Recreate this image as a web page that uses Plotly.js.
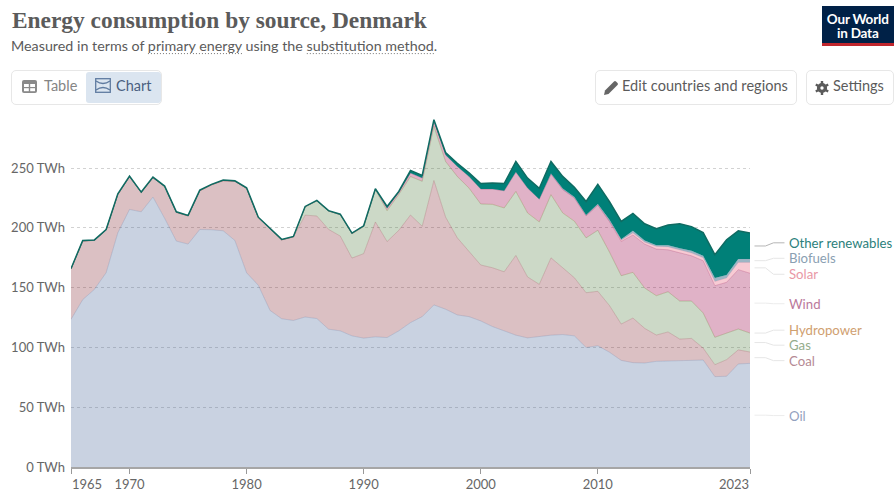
<!DOCTYPE html>
<html>
<head>
<meta charset="utf-8">
<script src="https://cdn.plot.ly/plotly-3.0.1.min.js"></script>
<style>
html,body{margin:0;padding:0;background:#fff;overflow:hidden}
#wrap{position:relative;width:896px;height:495px;font-family:Lato,sans-serif}
#chart{position:absolute;left:0;top:0;width:896px;height:495px}
.box{position:absolute;box-sizing:border-box;border:1px solid #e7e7e7;border-radius:5px;background:#fff}
.t{position:absolute;font-size:14.5px;line-height:18px;color:#5b5b5b;white-space:nowrap}
svg.i{position:absolute}
</style>
</head>
<body>
<div id="wrap">
<div id="chart"></div>
<div class="box" style="left:11px;top:70px;width:151px;height:35px"></div>
<div style="position:absolute;left:86px;top:72px;width:75px;height:31px;background:#dbe5f0;border-radius:3px"></div>
<svg class="i" style="left:22px;top:80px" width="15" height="13" viewBox="0 0 15 13"><rect width="15" height="13" rx="2" fill="#8a8a8a"/><rect x="2" y="4" width="4.8" height="3" fill="#fff"/><rect x="8.2" y="4" width="4.8" height="3" fill="#fff"/><rect x="2" y="8.2" width="4.8" height="3" fill="#fff"/><rect x="8.2" y="8.2" width="4.8" height="3" fill="#fff"/></svg>
<div class="t" style="left:44px;top:77px;color:#858585">Table</div>
<svg class="i" style="left:95px;top:78px" width="16" height="15" viewBox="0 0 16 15"><rect x=".7" y=".7" width="14.6" height="13.6" fill="none" stroke="#5f7ba0" stroke-width="1.3"/><path d="M1 3 Q8 8 15 3 M1 12 Q8 7 15 12" fill="none" stroke="#5f7ba0" stroke-width="1.3"/></svg>
<div class="t" style="left:116px;top:77px;color:#4a5f80">Chart</div>
<div class="box" style="left:595px;top:70px;width:202px;height:35px"></div>
<svg class="i" style="left:604px;top:80px" width="15" height="15" viewBox="0 0 15 15"><path d="M0 15 L1 10.5 L10 1.5 Q11 .5 12 1.5 L13.5 3 Q14.5 4 13.5 5 L4.5 14 Z" fill="#666"/></svg>
<div class="t" style="left:622px;top:77px;letter-spacing:.05px">Edit countries and regions</div>
<div class="box" style="left:806px;top:70px;width:88px;height:35px"></div>
<svg class="i" style="left:815px;top:81px" width="14" height="14" viewBox="0 0 14 14"><circle cx="7" cy="7" r="3.4" fill="none" stroke="#5b5b5b" stroke-width="3.4"/><path d="M7 0V3M7 11V14M0.8 3.5L3.4 5M10.6 9L13.2 10.5M0.8 10.5L3.4 9M10.6 5L13.2 3.5" stroke="#5b5b5b" stroke-width="2.4"/></svg>
<div class="t" style="left:833px;top:77px">Settings</div>
<div style="position:absolute;left:822px;top:6px;width:71.5px;height:40px;background:#002147;border-bottom:3.5px solid #c0262d;box-sizing:border-box;color:#fff;font-weight:700;font-size:13.5px;line-height:14.5px;text-align:center;padding-top:5.5px;letter-spacing:-.2px">Our World<br>in Data</div>
</div>
<script>
var years = [];
for (var yr = 1965; yr <= 2023; yr++) years.push(yr);

var oil = [123.5,140,148.6,162.5,196,215.5,213.5,225.8,208,189,
  186.5,198.7,198.5,197.6,189.5,162.5,152,131,124,122.6,
  125.5,124.2,115.3,113.9,109.7,107.8,108.9,108.3,113.9,120.8,
  125.8,135.6,132,127.2,125.8,122.2,117.5,113.9,110.3,108,
  109.2,110.3,110.8,109.7,100,101.4,96,89.2,87.3,87,
  88.4,88.7,88.4,89.2,89.5,75.6,75.9,86.2,86.7];
var coal = [42.1,49,41,35.8,32,27.3,16.1,16.2,26.6,24,
  23.5,32.3,37.5,41.9,49.5,70.5,56.6,68.4,66,69.8,
  85.2,85.8,83.5,79.3,65.1,70.7,96.1,80.3,84.1,90,
  75.6,104.1,77,64.5,54.8,46.8,49.2,49.4,66.7,51,
  43.6,64.7,55.9,48.6,45.8,45.6,39,30.4,37.3,29,
  22,24.3,18.6,18.4,10,10,13.9,11.8,9.5];
var gas = [0,0,0,0,0,0,0,0,0,0,
  0,0,0,0,0,0,0,0,0,0.1,
  6.8,12.5,15.2,17.8,20.2,22.5,27,25.8,30,32.2,
  37.6,45.3,46.5,51.3,52.7,51,53,53.4,53.5,53.5,
  52.2,52.8,45.8,47.3,45.9,51,44.7,40.4,38.2,33.7,
  32.9,33.6,31.8,31.2,29.3,22.9,22.2,17.4,15.8];
var hydropower = [0.1,0.1,0.1,0.1,0.1,0.1,0.1,0.1,0.1,0.1,
  0.1,0.1,0.1,0.1,0.1,0.1,0.1,0.1,0.1,0.1,
  0.1,0.1,0.1,0.1,0.1,0.1,0.1,0.1,0.1,0.1,
  0.1,0.1,0.1,0.1,0.1,0.1,0.1,0.1,0.1,0.1,
  0.1,0.1,0.1,0.1,0.1,0.1,0.1,0.1,0.1,0.1,
  0.1,0.1,0.1,0.1,0.1,0.1,0.1,0.1,0.1];
var wind = [0,0,0,0,0,0,0,0,0,0,
  0,0,0,0,0,0,0,0,0,0,
  0.1,0.1,0.1,0.1,0.2,0.3,0.5,2,1.7,2.8,
  2.7,4,5.5,8.4,9.7,12.5,12.8,14.3,16.2,20.8,
  19,17.2,19.5,19.4,18.3,21,25.5,28.6,31.2,36.7,
  38.9,35,40.1,37.8,43.7,43.1,42.4,49.6,50];
var solar = [0,0,0,0,0,0,0,0,0,0,
  0,0,0,0,0,0,0,0,0,0,
  0,0,0,0,0,0,0,0,0,0,
  0,0,0,0,0,0,0,0,0,0,
  0,0,0,0,0,0,0.1,0.9,1.6,1.6,
  2.2,2.4,2.5,2.3,2.5,3.4,3.6,6,9];
var biofuels = [0,0,0,0,0,0,0,0,0,0,
  0,0,0,0,0,0,0,0,0,0,
  0,0,0,0,0,0,0,0,0,0,
  0,0,0,0,0,0,0,0,0,0,
  0,0.5,0.8,0.8,0.8,0.9,1.5,0.9,1.9,1.4,
  1.1,1.5,1.4,1.9,1.6,3,2.5,3,3];
var otherRenewables = [0.3,0.4,0.3,0.3,0.4,0.4,0.3,0.4,0.3,0.4,
  0.4,0.5,0.3,0.4,0.3,0.5,0.3,0.5,0.3,0.3,
  0.3,0.3,0.3,0.3,0.4,0.4,0.2,1.5,0.7,2.1,
  2.2,1.5,2,2.6,3,4.5,5,6,8.8,8.3,
  9,10,10.2,8.2,11.2,16.5,15,15,14.5,14,
  13.7,16.8,20.6,20.2,19.4,19.5,29.5,23.5,21.6];

var seriesNames = ['Oil','Coal','Gas','Hydropower','Wind','Solar','Biofuels','Other renewables'];
var seriesValues = [oil,coal,gas,hydropower,wind,solar,biofuels,otherRenewables];
var fillColors = ['rgba(76,106,156,0.3)','rgba(136,48,57,0.3)','rgba(87,129,69,0.3)','rgba(177,98,20,0.3)',
  'rgba(151,0,70,0.3)','rgba(226,70,100,0.28)','rgba(60,110,140,0.5)','rgba(0,128,120,1)'];
var lineColors = ['rgba(76,106,156,0.25)','rgba(136,48,57,0.25)','rgba(87,129,69,0.25)','rgba(177,98,20,0.2)',
  'rgba(151,0,70,0.25)','rgba(226,70,110,0.25)','rgba(60,110,140,0.25)','#0f6b62'];
var lineWidths = [0.8,0.8,0.8,0.5,0.8,0.5,0.5,1.5];
var labelColors = ['#93a1be','#b58a94','#95ad8c','#d0a070','#bb7a9b','#e998a6','#8aa0b2','#2b7f7b'];
var labelPixelY = [416,361,345.5,330.5,304,274.5,258.5,243];
var connectorColors = ['#ececec','#e6e6e6','#e6e6e6','#e6e6e6','#ececec','#e6e6e6','#e6e6e6','#b5b5b5'];

var yTicks = [0,50,100,150,200,250];
var yTickLabels = ['0 TWh','50 TWh','100 TWh','150 TWh','200 TWh','250 TWh'];
var xTicks = [1965,1970,1980,1990,2000,2010,2023];
var xTickLabels = ['','1970','1980','1990','2000','2010',''];

var W = 896, H = 495, L = 71, R = 750.5, T = 110, B = 467.5;
var yMax = (B - T) / 1.197;
function px(x){ return (x - L) / (R - L); }
function py(y){ return (B - y) / (B - T); }

var traces = seriesNames.map(function(n,i){
  return {x:years, y:seriesValues[i], name:n, type:'scatter', mode:'lines', stackgroup:'one',
    fillcolor:fillColors[i], line:{color:lineColors[i], width:lineWidths[i]}, hoverinfo:'skip'};
});

var annotations = [], shapes = [];
var base = 0;
seriesNames.forEach(function(n,i){
  var v = seriesValues[i][seriesValues[i].length-1];
  var mid = base + v/2; base += v;
  var y0 = mid / yMax, y1 = py(labelPixelY[i]);
  annotations.push({xref:'paper',yref:'paper',x:px(789),y:y1,xanchor:'left',yanchor:'middle',showarrow:false,
    text:n,borderpad:0,font:{family:'Lato',size:13.2,color:labelColors[i]}});
  shapes.push({type:'path',xref:'paper',yref:'paper',layer:'above',
    path:'M '+px(755)+' '+y0+' L '+px(766)+' '+y0+' L '+px(774)+' '+y1+' L '+px(785)+' '+y1,
    line:{color:connectorColors[i],width:1}});
});
annotations.push({xref:'x',yref:'paper',x:1965,y:0,yshift:-7,xanchor:'left',yanchor:'top',showarrow:false,
  text:'1965',font:{family:'Lato',size:13,color:'#666'},xshift:-1});
annotations.push({xref:'x',yref:'paper',x:2023,y:0,yshift:-7,xanchor:'right',yanchor:'top',showarrow:false,
  text:'2023',font:{family:'Lato',size:13,color:'#666'},xshift:1});
annotations.push({xref:'paper',yref:'paper',x:px(11),y:py(45),xanchor:'left',yanchor:'middle',showarrow:false,
  text:'Measured in terms of primary energy using the substitution method.',borderpad:0,xshift:-1,
  font:{family:'Lato',size:14.3,color:'#5b5b5b'}});
shapes.push({type:'line',xref:'paper',yref:'paper',x0:px(148),x1:px(243),y0:py(53.5),y1:py(53.5),line:{color:'#777',width:1,dash:'1px,2px'}});
shapes.push({type:'line',xref:'paper',yref:'paper',x0:px(307),x1:px(435),y0:py(53.5),y1:py(53.5),line:{color:'#777',width:1,dash:'1px,2px'}});

var layout = {
  width:W, height:H, showlegend:false, paper_bgcolor:'rgba(0,0,0,0)', plot_bgcolor:'rgba(0,0,0,0)',
  margin:{l:L, r:W-R, t:T, b:H-B, pad:0},
  title:{text:'<b>Energy consumption by source, Denmark</b>', x:12/W, xanchor:'left', y:1-20/H, yanchor:'middle',
    font:{family:'Liberation Serif',size:23.4,color:'#5b5b5b'}},
  xaxis:{range:[1965,2023], tickmode:'array', tickvals:xTicks, ticktext:xTickLabels, ticks:'outside', ticklen:5,
    tickcolor:'#999', showgrid:false, zeroline:false, showline:true, linecolor:'#a6a6a6', linewidth:1.5,
    tickfont:{family:'Lato',size:13,color:'#666'}, fixedrange:true},
  yaxis:{range:[0,yMax], tickmode:'array', tickvals:yTicks, ticktext:yTickLabels, ticks:'', showline:false,
    showgrid:true, gridcolor:'#d2d2d2', griddash:'3px,3px', gridwidth:1, zeroline:false, ticklabelstandoff:5,
    tickfont:{family:'Lato',size:13,color:'#666'}, fixedrange:true},
  annotations:annotations, shapes:shapes
};
Plotly.newPlot('chart', traces, layout, {displayModeBar:false, staticPlot:true, responsive:false});
</script>
</body>
</html>
